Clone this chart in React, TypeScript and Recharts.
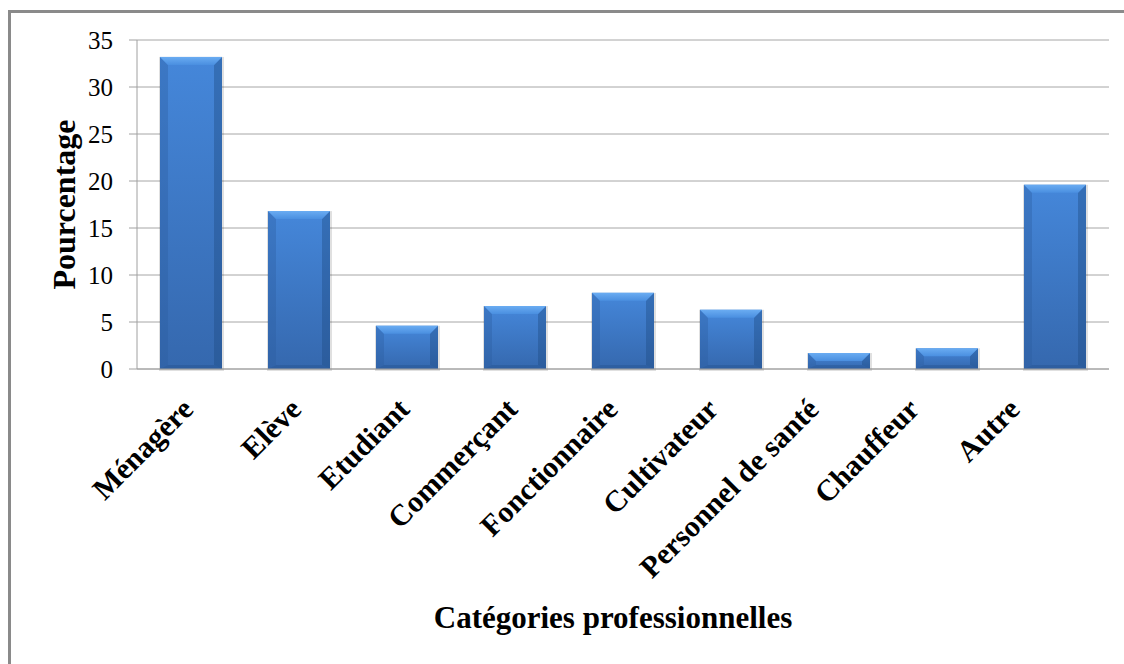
import { BarChart, Bar, XAxis, YAxis, CartesianGrid, Label } from "recharts"

const categories = [
    "Ménagère",
    "Elève",
    "Etudiant",
    "Commerçant",
    "Fonctionnaire",
    "Cultivateur",
    "Personnel de santé",
    "Chauffeur",
    "Autre",
]
const percentages = [33.2, 16.8, 4.6, 6.7, 8.1, 6.3, 1.7, 2.2, 19.6]
const yTicks = [0, 5, 10, 15, 20, 25, 30, 35]

const data = categories.map((name, i) => ({ name, value: percentages[i] }))

const serif = "'Liberation Serif', 'Times New Roman', serif"

function BevelBar(props: any) {
    const { x, y, width, height } = props
    if (!height || height <= 0) return null
    const b = Math.min(8, height / 2, width / 2)
    const s = Math.min(4, width / 4)
    const r = x + width
    const btm = y + height
    return (
        <g>
            <rect x={x - 1} y={y} width={width + 3} height={height + 2} fill="#000" opacity={0.12} />
            <rect x={x} y={y} width={width} height={height} fill="url(#barBody)" />
            <polygon points={`${x},${y} ${x + b},${y + b} ${x + b},${btm - s} ${x},${btm}`} fill="#2a5c9e" opacity={0.35} />
            <polygon points={`${r},${y} ${r - b},${y + b} ${r - b},${btm - s} ${r},${btm}`} fill="#1f4a82" opacity={0.4} />
            <polygon points={`${x},${btm} ${x + b},${btm - s} ${r - b},${btm - s} ${r},${btm}`} fill="#1f4a82" opacity={0.3} />
            <polygon points={`${x},${y} ${r},${y} ${r - b},${y + b} ${x + b},${y + b}`} fill="url(#barTop)" />
        </g>
    )
}

// excel drifts the rotated labels a bit to the left towards the right end
function CategoryTick(props: any) {
    const { x, y, payload, index } = props
    const shift = index < 4 ? 4 : 4 - (index - 3) * 7.5
    return (
        <g transform={`translate(${x + shift},${y + 34})`}>
            <text
                x={0}
                y={0}
                textAnchor="end"
                transform="rotate(-45)"
                fontFamily={serif}
                fontWeight="bold"
                fontSize={30}
                fill="#000"
            >
                {payload.value}
            </text>
        </g>
    )
}

export default function App() {
    return (
        <div style={{ position: "absolute", left: 0, top: 0, width: 1124, height: 664, background: "#fff" }}>
            <div
                style={{
                    position: "absolute",
                    left: 8,
                    top: 10,
                    width: 1116,
                    height: 654,
                    borderLeft: "3px solid #8a8a8a",
                    borderTop: "3px solid #8a8a8a",
                    boxSizing: "border-box",
                }}
            />
            <div style={{ position: "absolute", left: 0, top: 0 }}>
                <BarChart
                    width={1124}
                    height={664}
                    data={data}
                    margin={{ top: 40, right: 15, left: 0, bottom: 20 }}
                    barSize={62}
                >
                    <defs>
                        <linearGradient id="barBody" x1="0" y1="0" x2="0" y2="1">
                            <stop offset="0%" stopColor="#4587da" />
                            <stop offset="100%" stopColor="#3568ae" />
                        </linearGradient>
                        <linearGradient id="barTop" x1="0" y1="0" x2="0" y2="1">
                            <stop offset="0%" stopColor="#6aacf2" />
                            <stop offset="100%" stopColor="#4a8fe0" />
                        </linearGradient>
                    </defs>
                    <CartesianGrid vertical={false} stroke="#a6a6a6" strokeWidth={1} />
                    <XAxis
                        dataKey="name"
                        height={275}
                        interval={0}
                        tickLine={false}
                        axisLine={{ stroke: "#a0a0a0" }}
                        tick={<CategoryTick />}
                    >
                        <Label
                            value="Catégories professionnelles"
                            position="insideBottom"
                            offset={16}
                            dx={-10}
                            style={{ fontFamily: serif, fontWeight: "bold", fontSize: 31, fill: "#000" }}
                        />
                    </XAxis>
                    <YAxis
                        width={137}
                        domain={[0, 35]}
                        ticks={yTicks}
                        interval={0}
                        tickSize={8}
                        tickMargin={16}
                        tickLine={{ stroke: "#a0a0a0" }}
                        axisLine={{ stroke: "#a0a0a0" }}
                        tick={{ fontFamily: serif, fontSize: 25, fill: "#000" }}
                    >
                        <Label
                            value="Pourcentage"
                            angle={-90}
                            position="center"
                            dx={-5}
                            style={{ fontFamily: serif, fontWeight: "bold", fontSize: 32, fill: "#000", textAnchor: "middle" }}
                        />
                    </YAxis>
                    <Bar dataKey="value" shape={<BevelBar />} isAnimationActive={false} />
                </BarChart>
            </div>
        </div>
    )
}
